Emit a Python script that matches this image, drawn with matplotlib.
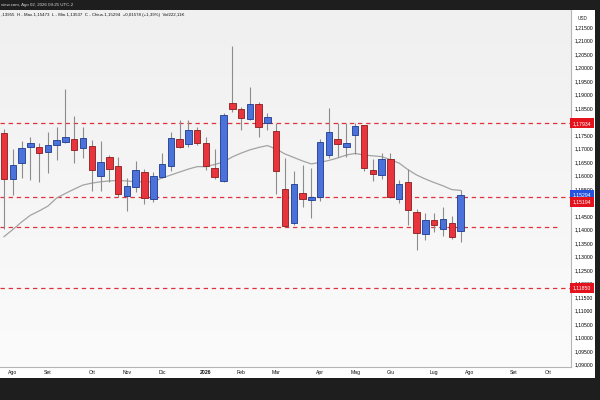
import numpy as np
import pandas as pd
import matplotlib
matplotlib.use('Agg')
import matplotlib.pyplot as plt
from matplotlib.colors import LinearSegmentedColormap

# EUR/USD settimanale, dal 28 lug 2025 al 27 lug 2026
apertura = [1.1756, 1.1587, 1.1648, 1.1707, 1.1707, 1.1688, 1.1713, 1.1724, 1.1735, 1.1703,
            1.1711, 1.1599, 1.1670, 1.1635, 1.1525, 1.1559, 1.1614, 1.1512, 1.1594, 1.1635,
            1.1735, 1.1716, 1.1769, 1.1719, 1.1627, 1.1581, 1.1867, 1.1846, 1.1808, 1.1865,
            1.1796, 1.1766, 1.1550, 1.1423, 1.1534, 1.1508, 1.1522, 1.1675, 1.1734, 1.1705,
            1.1749, 1.1786, 1.1621, 1.1603, 1.1660, 1.1512, 1.1576, 1.1466, 1.1383, 1.1436,
            1.1404, 1.1424, 1.13955]
massimo = [1.1771, 1.1698, 1.1729, 1.1744, 1.1722, 1.1760, 1.1781, 1.1919, 1.1820, 1.1781,
           1.1732, 1.1728, 1.1676, 1.1670, 1.1590, 1.1655, 1.1623, 1.1612, 1.1682, 1.1762,
           1.1806, 1.1806, 1.1781, 1.1742, 1.1698, 1.1833, 1.2081, 1.1854, 1.1927, 1.1873,
           1.1830, 1.1793, 1.1666, 1.1617, 1.1639, 1.1627, 1.1734, 1.1849, 1.1793, 1.1793,
           1.1796, 1.1788, 1.1661, 1.1685, 1.1685, 1.1585, 1.1623, 1.1475, 1.1460, 1.1460,
           1.1484, 1.1451, 1.15473]
minimo = [1.1402, 1.1528, 1.1592, 1.1584, 1.1575, 1.1608, 1.1658, 1.1719, 1.1648, 1.1664,
          1.1544, 1.1544, 1.1577, 1.1522, 1.1470, 1.1540, 1.1495, 1.1503, 1.1590, 1.1618,
          1.1701, 1.1707, 1.1713, 1.1621, 1.1586, 1.1577, 1.1836, 1.1769, 1.1806, 1.1744,
          1.1769, 1.1531, 1.1410, 1.1417, 1.1485, 1.1444, 1.1506, 1.1664, 1.1670, 1.1670,
          1.1680, 1.1618, 1.1580, 1.1586, 1.1518, 1.1500, 1.1417, 1.1326, 1.1362, 1.1392,
          1.1377, 1.1364, 1.13537]
chiusura = [1.1586, 1.1638, 1.1701, 1.1719, 1.1682, 1.1713, 1.1730, 1.1742, 1.1696, 1.1738,
            1.1619, 1.1649, 1.1624, 1.1532, 1.1561, 1.1621, 1.1516, 1.1598, 1.1643, 1.1738,
            1.1707, 1.1769, 1.1719, 1.1635, 1.1596, 1.1824, 1.1846, 1.1814, 1.1865, 1.1779,
            1.1816, 1.1617, 1.1414, 1.1569, 1.1512, 1.1520, 1.1725, 1.1762, 1.1718, 1.1722,
            1.1783, 1.1627, 1.1605, 1.1661, 1.1522, 1.1567, 1.1473, 1.1386, 1.1436, 1.1416,
            1.1438, 1.13716, 1.15294]
media = [1.1374, 1.1400, 1.1428, 1.1453, 1.1469, 1.1487, 1.1517, 1.1534, 1.1550, 1.1565,
         1.1572, 1.1577, 1.1580, 1.1582, 1.1580, 1.1577, 1.1577, 1.1577, 1.1591, 1.1602,
         1.1613, 1.1624, 1.1633, 1.1633, 1.1641, 1.1650, 1.1669, 1.1683, 1.1695, 1.1704,
         1.1711, 1.1698, 1.1680, 1.1667, 1.1654, 1.1643, 1.1649, 1.1656, 1.1665, 1.1676,
         1.1682, 1.1676, 1.1673, 1.1670, 1.1659, 1.1646, 1.1622, 1.1602, 1.1587, 1.1574,
         1.1562, 1.1548, 1.1545]
livelli = [1.17934, 1.15194, 1.1409, 1.1185]
mesi = ['Gen', 'Feb', 'Mar', 'Apr', 'Mag', 'Giu', 'Lug', 'Ago', 'Set', 'Ott', 'Nov', 'Dic']
nascosti = [1.18, 1.15]   # coperti dalle etichette colorate

rosso = '#e8343c'
rosso_bordo = '#8a1c1c'
blu = '#4a72da'
blu_bordo = '#1c3a8e'
fondo = '#1e1e1e'
fs = 3.7

settimane = pd.date_range('2025-07-28', periods=66, freq='W-MON')
x = np.arange(len(chiusura))

fig = plt.figure(figsize=(6, 4), dpi=100, facecolor=fondo)

# cornice bianca del grafico
sfondo = fig.add_axes([0, 22.5/400, 595/600, 367.5/400])
sfondo.set_facecolor('white')
sfondo.set_xticks([])
sfondo.set_yticks([])
for s in sfondo.spines.values():
    s.set_visible(False)

ax = fig.add_axes([0, 33/400, 570.5/600, 357/400])
ax.set_facecolor('none')

grad = LinearSegmentedColormap.from_list('g', ['#fbfbfb', '#f0f0f0'])
ax.imshow(np.linspace(0, 1, 100).reshape(-1, 1)[::-1], cmap=grad, aspect='auto',
          extent=[0, 1, 0, 1], transform=ax.transAxes, zorder=0)

# livelli orizzontali
for i, l in enumerate(livelli):
    fine = 557/570.5 if i == 2 else 1
    ax.axhline(l, xmin=0, xmax=fine, color='#e0323a', lw=0.9, ls=(0, (3.5, 3)), zorder=1)

# media mobile
ax.plot(x, media, color='#a3a3a3', lw=0.9, zorder=2)

# candele
larg = 0.74
for i in x:
    o, h, l, c = apertura[i], massimo[i], minimo[i], chiusura[i]
    col, bordo = (blu, blu_bordo) if c >= o else (rosso, rosso_bordo)
    ax.vlines(i, l, h, color='#8c8c8c', lw=0.8, zorder=3)
    ax.bar(i, abs(c - o), bottom=min(o, c), width=larg, color=col,
           edgecolor=bordo, linewidth=0.6, zorder=4)

ax.set_xlim(-0.456, 64.52)
ax.set_ylim(1.08915, 1.22127)

# asse prezzi
ax.yaxis.tick_right()
yt = np.arange(1.09, 1.2151, 0.005)
ax.set_yticks(yt)
ax.set_yticklabels(['' if any(abs(v - n) < 1e-6 for n in nascosti)
                    else f'{v:.5f}'.replace('.', ',') for v in yt])
ax.tick_params(axis='y', length=0, pad=3, labelsize=fs, labelcolor='#000000')
for t in ax.get_yticklabels():
    t.set_family('Liberation Sans')

# asse tempi
pos, etich = [], []
for i in range(1, len(settimane)):
    if settimane[i].month != settimane[i-1].month:
        pos.append(i)
        m = settimane[i].month
        etich.append(str(settimane[i].year) if m == 1 else mesi[m-1])
ax.set_xticks(pos)
ax.set_xticklabels(etich)
ax.tick_params(axis='x', length=0, pad=2.5, labelsize=fs, labelcolor='#111111')
for t in ax.get_xticklabels():
    t.set_family('Liberation Sans')
    if t.get_text().isdigit():
        t.set_fontweight('bold')

for s in ['top', 'left']:
    ax.spines[s].set_visible(False)
ax.spines['bottom'].set_color('#b5b5b5')
ax.spines['right'].set_color('#b5b5b5')
ax.spines['bottom'].set_linewidth(0.8)
ax.spines['right'].set_linewidth(0.8)

# etichette di prezzo sull'asse
def etichetta(y, testo, colore):
    ax.annotate(testo, xy=(1, y), xycoords=('axes fraction', 'data'),
                xytext=(1.6, 0), textcoords='offset points', ha='left', va='center',
                fontsize=fs, family='Liberation Sans', color='white', zorder=10,
                annotation_clip=False,
                bbox=dict(boxstyle='square,pad=0.5', fc=colore, ec='none'))

etichetta(livelli[0], '1,17934', '#e3121c')
etichetta(chiusura[-1], '1,15294', '#2453e0')
etichetta(1.1502, '1,15194', '#e3121c')
etichetta(livelli[3], '1,11850', '#e3121c')

ax.text(1.012, 0.975, 'USD', transform=ax.transAxes, fontsize=3.4, family='Liberation Sans',
        color='#222222', va='center', ha='left')

# intestazione
fig.text(0.002, 1 - 5/400, 'view.com, Ago 02, 2026 09:25 UTC-2', fontsize=3.2,
         family='Liberation Sans', color='#d8d8d8', va='center', ha='left')
fig.text(0.002, 1 - 15/400,
         ',13955  H - Max.1,15473  L - Min.1,13537  C - Chius.1,15294  +0,01578 (+1,39%)  Vol222,11K',
         fontsize=3.2, family='Liberation Sans', color='#111111', va='center', ha='left')

fig.savefig('out.png', dpi=100, facecolor=fondo)
